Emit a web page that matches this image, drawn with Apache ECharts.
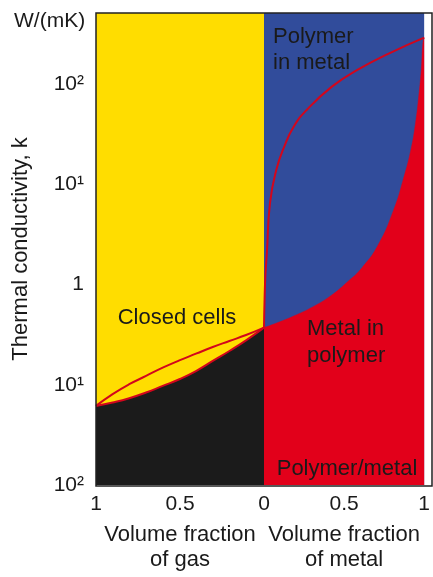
<!DOCTYPE html>
<html><head><meta charset="utf-8">
<script src="https://cdn.jsdelivr.net/npm/echarts@6/dist/echarts.min.js"></script>
<style>html,body{margin:0;padding:0;background:#fff}#c{width:433px;height:577px}</style>
</head><body><div id="c"></div>
<script>
// Left half: closed cells, x = volume fraction of gas (1 at left -> 0 at centre)
const closedGas    = [1, 0.901, 0.802, 0.702, 0.603, 0.504, 0.405, 0.305, 0.206, 0.107, 0];
const closedUpperK = [0.0615, 0.0806, 0.1012, 0.1225, 0.148, 0.175, 0.204, 0.238, 0.273, 0.313, 0.371];
const closedLowerK = [0.0615, 0.0665, 0.0734, 0.0836, 0.0973, 0.1135, 0.137, 0.1726, 0.217, 0.277, 0.371];
// Right half: polymer/metal, x = volume fraction of metal
const metalLowerFrac = [0, 0.107, 0.185, 0.286, 0.411, 0.524, 0.613, 0.714, 0.810, 0.869, 0.917, 0.946, 0.966, 0.982, 0.992, 1];
const metalLowerK    = [0.371, 0.429, 0.484, 0.577, 0.760, 1.07, 1.476, 2.50, 5.57, 11.1, 22.0, 40.6, 74.8, 138, 254, 290];
const metalUpperFrac = [0, 0.0036, 0.0089, 0.018, 0.0375, 0.077, 0.127, 0.186, 0.266, 0.424, 0.583, 0.782, 1];
const metalUpperK    = [0.371, 0.71, 1.26, 2.07, 6.5, 13.9, 23.8, 37.6, 55, 94, 138, 202, 290];
// Tick labels (as printed)
const yTickValues = [0.01, 0.1, 1, 10, 100];
const yTickLabels = ['10\u00B2', '10\u00B9', '1', '10\u00B9', '10\u00B2'];
const gasTickLabels = {0: '0', 0.5: '0.5', 1: '1'};
const metalTickLabels = {0: '', 0.5: '0.5', 1: '1'};

const zip = (xs, ys) => xs.map((x, i) => [x, ys[i]]);
const FONT = '"Liberation Sans", Arial, Helvetica, sans-serif';
const TXT = '#1a1a1a';
const YELLOW = '#FFDD00', BLUE = '#314C9B', RED = '#E2001A', BLACK = '#1B1B1B', LINE = '#D2061C';
const Y_MIN = 0.01, Y_MAX = 510;

const chart = echarts.init(document.getElementById('c'), null, {renderer: 'canvas'});
const yAxisBase = {
  type: 'log', logBase: 10, min: Y_MIN, max: Y_MAX,
  splitLine: {show: false}, axisTick: {show: false}, axisLine: {show: false}
};
chart.setOption({
  animation: false,
  backgroundColor: '#fff',
  textStyle: {fontFamily: FONT},
  grid: [
    {left: 96, top: 13, width: 168, height: 473, show: true, backgroundColor: YELLOW, borderWidth: 0},
    {left: 264, top: 13, width: 168, height: 473, show: true, backgroundColor: BLUE, borderWidth: 0}
  ],
  xAxis: [
    {gridIndex: 0, type: 'value', min: 0, max: 1, interval: 0.5, inverse: true,
     axisLine: {show: false}, axisTick: {show: false}, splitLine: {show: false},
     axisLabel: {margin: 9, fontSize: 21, color: TXT, fontFamily: FONT, formatter: v => gasTickLabels[v] ?? ''},
     name: 'Volume fraction\nof gas', nameLocation: 'middle', nameGap: 37,
     nameTextStyle: {fontSize: 22, lineHeight: 25, color: TXT, fontFamily: FONT}},
    {gridIndex: 1, type: 'value', min: 0, max: 1, interval: 0.5,
     axisLine: {show: false}, axisTick: {show: false}, splitLine: {show: false},
     axisLabel: {margin: 9, fontSize: 21, color: TXT, fontFamily: FONT, formatter: v => metalTickLabels[v] ?? ''},
     name: 'Volume fraction\nof metal', nameLocation: 'middle', nameGap: 37,
     nameTextStyle: {fontSize: 22, lineHeight: 25, color: TXT, fontFamily: FONT}}
  ],
  yAxis: [
    Object.assign({}, yAxisBase, {gridIndex: 0,
      axisLabel: {margin: 12, fontSize: 21, color: TXT, fontFamily: FONT,
        formatter: v => { const i = yTickValues.findIndex(t => Math.abs(Math.log10(t) - Math.log10(v)) < 1e-6); return i >= 0 ? yTickLabels[i] : ''; }},
      name: 'Thermal conductivity, k', nameLocation: 'middle', nameGap: 64,
      nameTextStyle: {fontSize: 22, color: TXT, fontFamily: FONT}}),
    Object.assign({}, yAxisBase, {gridIndex: 1, axisLabel: {show: false}})
  ],
  title: {text: 'W/(mK)', left: 9, top: 6, textStyle: {fontSize: 21, fontWeight: 'normal', color: TXT, fontFamily: FONT}},
  series: [
    {type: 'line', xAxisIndex: 0, yAxisIndex: 0, data: zip(closedGas, closedLowerK),
     smooth: 0.5, symbol: 'none', lineStyle: {color: LINE, width: 2},
     areaStyle: {color: BLACK, opacity: 1, origin: 'start'}, z: 2},
    {type: 'line', xAxisIndex: 0, yAxisIndex: 0, data: zip(closedGas, closedUpperK),
     smooth: 0.5, symbol: 'none', lineStyle: {color: LINE, width: 2}, z: 3},
    {type: 'line', xAxisIndex: 1, yAxisIndex: 1, data: zip(metalLowerFrac, metalLowerK),
     smooth: 0.5, symbol: 'none', lineStyle: {color: RED, width: 0.5},
     areaStyle: {color: RED, opacity: 1, origin: 'start'}, z: 2},
    {type: 'line', xAxisIndex: 1, yAxisIndex: 1, data: zip(metalUpperFrac, metalUpperK),
     smooth: 0.5, symbol: 'none', lineStyle: {color: LINE, width: 2}, z: 3}
  ],
  graphic: [
    {type: 'rect', z: 100, silent: true, shape: {x: 96, y: 13, width: 336, height: 473},
     style: {fill: 'none', stroke: '#222', lineWidth: 1.5}},
    {type: 'text', z: 100, style: {text: 'Closed cells', x: 177, y: 318, align: 'center', verticalAlign: 'middle', fontSize: 22, fontFamily: FONT, fill: TXT}},
    {type: 'text', z: 100, style: {text: 'Polymer\nin metal', x: 273, y: 24, align: 'left', verticalAlign: 'top', lineHeight: 26, fontSize: 22, fontFamily: FONT, fill: TXT}},
    {type: 'text', z: 100, style: {text: 'Metal in\npolymer', x: 307, y: 315, align: 'left', verticalAlign: 'top', lineHeight: 27, fontSize: 22, fontFamily: FONT, fill: TXT}},
    {type: 'text', z: 100, style: {text: 'Polymer/metal', x: 347, y: 469, align: 'center', verticalAlign: 'middle', fontSize: 22, fontFamily: FONT, fill: TXT}}
  ]
});
</script></body></html>
